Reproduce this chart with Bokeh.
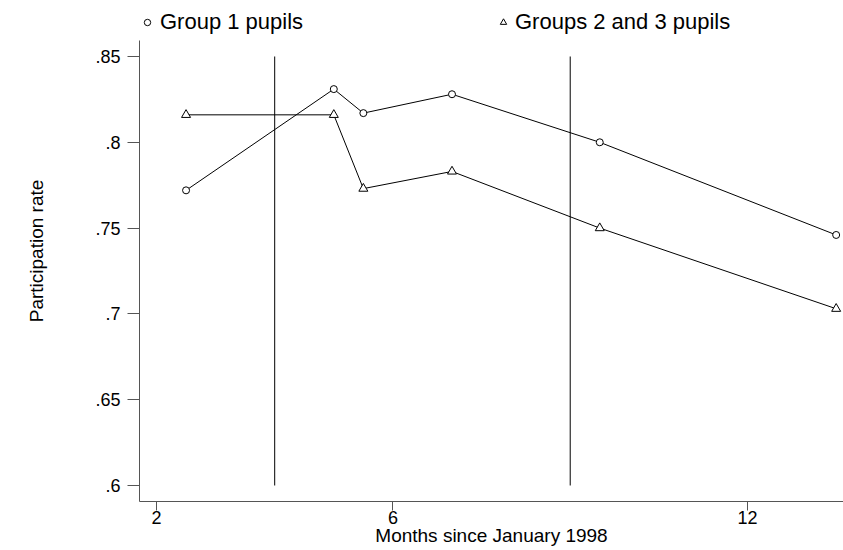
from bokeh.plotting import figure
from bokeh.models import Legend, LegendItem, FixedTicker, Range1d
from bokeh.embed import file_html
from bokeh.resources import INLINE

# ---- data ----
months = [2.5, 5, 5.5, 7, 9.5, 13.5]
rate_group1 = [0.772, 0.831, 0.817, 0.828, 0.800, 0.746]
rate_group23 = [0.816, 0.816, 0.773, 0.783, 0.750, 0.703]
vline_x = [4, 9]
vline_bottom = [0.6, 0.6]
vline_top = [0.85, 0.85]
x_ticks = [2, 6, 12]
y_ticks = [0.6, 0.65, 0.7, 0.75, 0.8, 0.85]
y_tick_labels = [".6", ".65", ".7", ".75", ".8", ".85"]
legend_labels = ["Group 1 pupils", "Groups 2 and 3 pupils"]

FONT = "Liberation Sans"
Y_AXIS_LOW, Y_AXIS_HIGH = 0.59067, 0.85932

p = figure(width=843, height=550, output_backend="svg", toolbar_location=None,
           x_range=Range1d(1.7124, 13.624), y_range=Range1d(Y_AXIS_LOW, 0.88263),
           min_border_left=139, min_border_right=0, min_border_top=0, min_border_bottom=49)
p.outline_line_color = None
p.grid.visible = False
p.background_fill_color = "white"

p.segment(x0=vline_x, y0=vline_bottom, x1=vline_x, y1=vline_top, line_color="black", line_width=1)

p.line(months, rate_group1, line_color="black", line_width=1)
p.line(months, rate_group23, line_color="black", line_width=1)
r1 = p.scatter(months, rate_group1, marker="circle", size=7, line_color="black",
               fill_color="white", line_width=1)
r2 = p.scatter(months, rate_group23, marker="triangle", size=9, line_color="black",
               fill_color="white", line_width=1)

for ax in (p.xaxis[0], p.yaxis[0]):
    ax.axis_line_color = "#555555"
    ax.major_tick_line_color = "#555555"
    ax.minor_tick_line_color = None
    ax.major_tick_in = 0
    ax.major_label_text_font = FONT
    ax.major_label_text_font_size = "18px"
    ax.major_label_text_color = "black"
    ax.axis_label_text_font = FONT
    ax.axis_label_text_font_size = "19px"
    ax.axis_label_text_font_style = "normal"
    ax.axis_label_text_color = "black"

p.xaxis.ticker = FixedTicker(ticks=x_ticks)
p.xaxis.major_tick_out = 9
p.xaxis.major_label_standoff = 0
p.xaxis.axis_label = "Months since January 1998"
p.xaxis.axis_label_standoff = -2

p.yaxis.ticker = FixedTicker(ticks=y_ticks)
p.yaxis.bounds = (Y_AXIS_LOW, Y_AXIS_HIGH)
p.yaxis.major_label_overrides = {t: s for t, s in zip(y_ticks, y_tick_labels)}
p.yaxis.major_tick_out = 12
p.yaxis.major_label_standoff = 7
p.yaxis.axis_label = "Participation rate"
p.yaxis.axis_label_standoff = 45

for renderer, label, xloc, standoff in ((r1, legend_labels[0], 0, 5), (r2, legend_labels[1], 356, 4)):
    lg = Legend(items=[LegendItem(label=label, renderers=[renderer])],
                location=(xloc, 466), orientation="horizontal",
                border_line_color=None, background_fill_alpha=0,
                padding=0, margin=0, spacing=0,
                glyph_width=16, glyph_height=20, label_height=20, label_standoff=standoff,
                label_text_color="black",
                label_text_font=FONT, label_text_font_size="22px")
    p.add_layout(lg, "center")

open("out.html", "w").write(file_html(p, INLINE))
